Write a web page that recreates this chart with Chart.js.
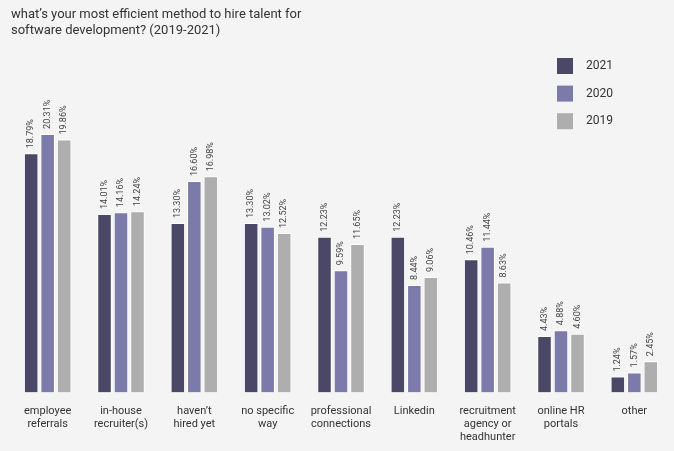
<!DOCTYPE html>
<html>
<head>
<meta charset="utf-8">
<script src="https://cdn.jsdelivr.net/npm/chart.js@4"></script>
<style>
  html, body { margin: 0; padding: 0; background: #f4f4f4; }
  #wrap { width: 674px; height: 451px; }
</style>
</head>
<body>
<div id="wrap"><canvas id="grafico"></canvas></div>
<script>
const categories = [
  ['employee', 'referrals'],
  ['in-house', 'recruiter(s)'],
  ['haven’t', 'hired yet'],
  ['no specific', 'way'],
  ['professional', 'connections'],
  ['Linkedin'],
  ['recruitment', 'agency or', 'headhunter'],
  ['online HR', 'portals'],
  ['other']
]
const years = ['2021', '2020', '2019']
const values2021 = [18.79, 14.01, 13.30, 13.30, 12.23, 12.23, 10.46, 4.43, 1.24]
const values2020 = [20.31, 14.16, 16.60, 13.02, 9.59, 8.44, 11.44, 4.88, 1.57]
const values2019 = [19.86, 14.24, 16.98, 12.52, 11.65, 9.06, 8.63, 4.60, 2.45]
const colors = ['#4a4866', '#7b7aab', '#aeaeae']

const ctx = document.getElementById('grafico')

// etiquetas verticais acima das barras
const valueLabels = {
  id: 'valueLabels',
  afterDatasetsDraw(chart) {
    const c = chart.ctx
    c.save()
    c.font = '9px Roboto'
    c.fillStyle = '#444'
    c.textAlign = 'left'
    c.textBaseline = 'middle'
    chart.data.datasets.forEach((ds, i) => {
      chart.getDatasetMeta(i).data.forEach((bar, j) => {
        c.save()
        c.translate(bar.x, bar.y - 5)
        c.rotate(-Math.PI / 2)
        c.fillText(ds.data[j].toFixed(2) + '%', 0, 0)
        c.restore()
      })
    })
    c.restore()
  }
}

// legenda vertical no canto superior direito
const sideLegend = {
  id: 'sideLegend',
  afterDraw(chart) {
    const c = chart.ctx
    c.save()
    c.font = '12px Roboto'
    c.textBaseline = 'middle'
    chart.data.datasets.forEach((ds, i) => {
      const y = 58 + i * 27.6
      c.fillStyle = ds.backgroundColor
      c.fillRect(557, y, 16, 16)
      c.fillStyle = '#333'
      c.fillText(ds.label, 586, y + 8)
    })
    c.restore()
  }
}

new Chart(ctx, {
  type: 'bar',
  data: {
    labels: categories,
    datasets: [
      { label: years[0], data: values2021, backgroundColor: colors[0] },
      { label: years[1], data: values2020, backgroundColor: colors[1] },
      { label: years[2], data: values2019, backgroundColor: colors[2] }
    ].map(ds => ({ ...ds, borderColor: '#ffffff', borderWidth: 1, categoryPercentage: 0.675, barPercentage: 0.88 }))
  },
  options: {
    responsive: true,
    maintainAspectRatio: false,
    animation: false,
    layout: { padding: { left: 11, right: 3, bottom: -5 } },
    plugins: {
      legend: { display: false },
      tooltip: { enabled: false },
      title: {
        display: true,
        align: 'start',
        text: ['what’s your most efficient method to hire talent for', 'software development? (2019-2021)'],
        color: '#333',
        font: { family: 'Roboto', size: 13, weight: 'normal' },
        padding: { top: 7, bottom: 22 }
      }
    },
    scales: {
      x: {
        grid: { display: false, drawTicks: false },
        border: { display: false },
        ticks: {
          color: '#333',
          font: { family: 'Roboto', size: 11, lineHeight: 1.2 },
          padding: 12,
          maxRotation: 0,
          autoSkip: false
        }
      },
      y: {
        display: false,
        min: 0,
        max: 26.1
      }
    }
  },
  plugins: [valueLabels, sideLegend]
})
</script>
</body>
</html>
